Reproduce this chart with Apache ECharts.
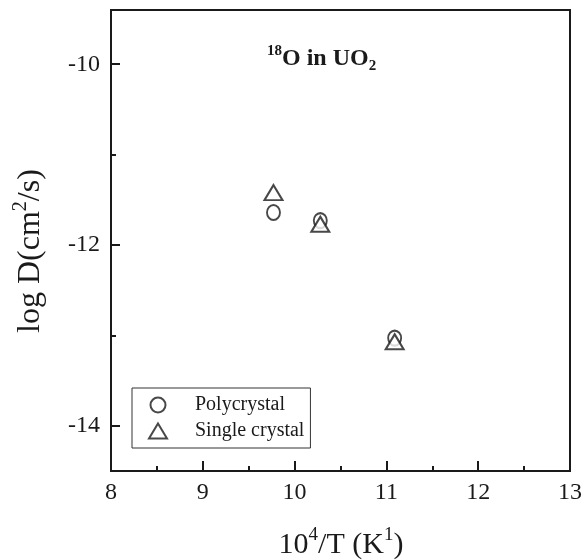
<!DOCTYPE html>
<html><head><meta charset="utf-8">
<script src="https://cdn.jsdelivr.net/npm/echarts@6/dist/echarts.min.js"></script>
<style>html,body{margin:0;padding:0;background:#fff}#c{width:585px;height:560px}</style>
</head><body><div id="c"></div>
<script>
const seriesNames = ['Polycrystal', 'Single crystal'];
const polyX = [9.77, 10.28, 11.09];
const polyY = [-11.64, -11.73, -13.03];
const singleX = [9.77, 10.28, 11.09];
const singleY = [-11.42, -11.77, -13.07];
const xTicks = [8, 9, 10, 11, 12, 13];
const xMinorTicks = [8.5, 9.5, 10.5, 11.5, 12.5];
const yTicks = [-14, -12, -10];
const yMinorTicks = [-13, -11];

const FONT = '"Liberation Serif", "DejaVu Serif", serif';
const INK = '#1a1a1a';
const chart = echarts.init(document.getElementById('c'));

function zip(xs, ys) { return xs.map((x, i) => [x, ys[i]]); }

const xBase = { type: 'value', min: 8, max: 13, position: 'bottom', splitLine: { show: false } };
const yBase = { type: 'value', min: -14.5, max: -9.4, position: 'left', splitLine: { show: false } };

chart.setOption({
  animation: false,
  grid: { left: 111, right: 13, top: 10, bottom: 89, show: true, borderColor: INK, borderWidth: 2, backgroundColor: 'transparent' },
  xAxis: [
    Object.assign({}, xBase, {
      axisLine: { show: true, lineStyle: { color: INK, width: 2 } },
      axisTick: { show: true, customValues: xTicks, inside: true, length: 10, lineStyle: { color: INK, width: 2 } },
      axisLabel: { show: true, customValues: xTicks, fontSize: 24, fontFamily: FONT, color: INK, margin: 10 }
    }),
    Object.assign({}, xBase, {
      axisLine: { show: false },
      axisTick: { show: true, customValues: xMinorTicks, inside: true, length: 5, lineStyle: { color: INK, width: 2 } },
      axisLabel: { show: false }
    })
  ],
  yAxis: [
    Object.assign({}, yBase, {
      axisLine: { show: true, lineStyle: { color: INK, width: 2 } },
      axisTick: { show: true, customValues: yTicks, inside: true, length: 9, lineStyle: { color: INK, width: 2 } },
      axisLabel: { show: true, customValues: yTicks, fontSize: 24, fontFamily: FONT, color: INK, margin: 11 }
    }),
    Object.assign({}, yBase, {
      axisLine: { show: false },
      axisTick: { show: true, customValues: yMinorTicks, inside: true, length: 5, lineStyle: { color: INK, width: 2 } },
      axisLabel: { show: false }
    })
  ],
  legend: {
    data: seriesNames,
    orient: 'vertical',
    left: 132, top: 388,
    borderColor: '#333', borderWidth: 1,
    padding: [7, 6, 7, 16],
    itemGap: 6,
    itemWidth: 18, itemHeight: 15,
    textStyle: { fontSize: 20, fontFamily: FONT, color: INK, lineHeight: 20, padding: [0, 0, 0, 23] }
  },
  series: [
    {
      name: seriesNames[0], type: 'scatter', xAxisIndex: 0, yAxisIndex: 0,
      symbol: 'emptyCircle', symbolSize: [13, 15],
      itemStyle: { color: INK, borderColor: INK, borderWidth: 1.8 },
      data: zip(polyX, polyY)
    },
    {
      name: seriesNames[1], type: 'scatter', xAxisIndex: 0, yAxisIndex: 0,
      symbol: 'emptyTriangle', symbolSize: [18, 15],
      itemStyle: { color: INK, borderColor: INK, borderWidth: 1.8 },
      data: zip(singleX, singleY)
    }
  ],
  graphic: [
    {
      type: 'text', left: 267, top: 44,
      style: {
        text: '{sup|18}{main|O in UO}{sub|2}',
        fill: INK,
        rich: {
          sup: { fontSize: 15, fontWeight: 'bold', fontFamily: FONT, fill: INK, lineHeight: 12, verticalAlign: 'top' },
          main: { fontSize: 24, fontWeight: 'bold', fontFamily: FONT, fill: INK, lineHeight: 30, verticalAlign: 'middle' },
          sub: { fontSize: 15, fontWeight: 'bold', fontFamily: FONT, fill: INK, lineHeight: 14, verticalAlign: 'bottom' }
        }
      }
    },
    {
      type: 'text', x: 341, y: 543,
      style: {
        text: '{m|10}{s|4}{m|/T (K}{s|1}{m|)}',
        align: 'center', verticalAlign: 'middle',
        rich: {
          m: { fontSize: 30, fontFamily: FONT, fill: INK, lineHeight: 34, verticalAlign: 'bottom' },
          s: { fontSize: 19, fontFamily: FONT, fill: INK, lineHeight: 18, verticalAlign: 'top' }
        }
      }
    },
    {
      type: 'text', x: 29, y: 251, rotation: Math.PI / 2,
      style: {
        text: '{m|log D(cm}{s|2}{m|/s)}',
        align: 'center', verticalAlign: 'middle',
        rich: {
          m: { fontSize: 32, fontFamily: FONT, fill: INK, lineHeight: 36, verticalAlign: 'bottom' },
          s: { fontSize: 20, fontFamily: FONT, fill: INK, lineHeight: 19, verticalAlign: 'top' }
        }
      }
    }
  ]
});
</script>
</body></html>
